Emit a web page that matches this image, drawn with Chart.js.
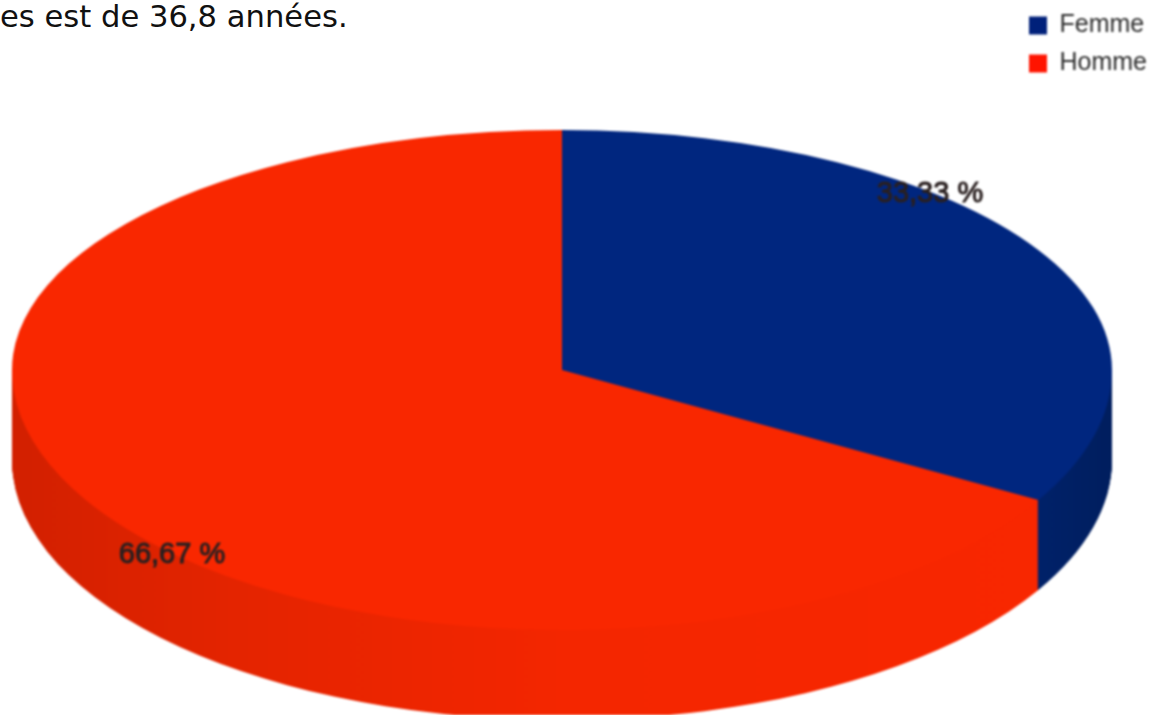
<!DOCTYPE html>
<html lang="fr">
<head>
<meta charset="utf-8">
<title>Répartition par sexe</title>
<script src="https://cdn.jsdelivr.net/npm/chart.js@4/dist/chart.umd.min.js"></script>
<style>
  html, body { margin: 0; background: #fff; overflow: hidden; }
  #wrap { position: relative; width: 1157px; height: 715px; }
  #chart { filter: blur(0.8px); }
  #line { position: absolute; left: 0; top: -1px; font: 30.6px "DejaVu Sans", sans-serif; color: #111; white-space: nowrap; }
</style>
</head>
<body>
<div id="wrap">
  <div id="line">es est de 36,8 années.</div>
  <canvas id="chart" width="1157" height="715"></canvas>
</div>
<script>
const categories = ['Femme', 'Homme'];
const values = [33.33, 66.67];
const sliceColors = ['#00267F', '#F92700'];
const legendColors = ['#00207A', '#FF1400'];

// fake 3D: the library's arcs are flattened, the front half a bit more open
const disc = { cx: 562, cy: 370, rx: 550, ryBack: 240, ryFront: 260, depth: 90 };
const labelCenters = [[930, 194], [172, 555]];

function sideFill(ctx, index, R) {
  const g = ctx.createLinearGradient(-R, 0, R, 0);
  if (index === 0) {
    g.addColorStop(0, '#002575');
    g.addColorStop(0.86, '#002575');
    g.addColorStop(1, '#001E5E');
  } else {
    g.addColorStop(0, '#D22000');
    g.addColorStop(0.2, '#E42400');
    g.addColorStop(0.5, '#F42600');
    g.addColorStop(1, '#F92700');
  }
  return g;
}

const pie3d = {
  id: 'pie3d',
  beforeDatasetsDraw(chart) {
    const ctx = chart.ctx;
    const arcs = chart.getDatasetMeta(0).data;
    const R = arcs[0].outerRadius;
    const sx = disc.rx / R;

    function place(ry, dy) {
      ctx.translate(disc.cx, disc.cy + dy);
      ctx.scale(sx, ry / R);
    }

    // side wall, front half only, back slice first
    arcs.forEach((arc, i) => {
      ctx.save();
      ctx.beginPath();
      ctx.rect(0, disc.cy, chart.width, chart.height);
      ctx.clip();
      for (let dy = disc.depth; dy >= 1; dy--) {
        ctx.save();
        place(disc.ryFront, dy);
        ctx.fillStyle = sideFill(ctx, i, R);
        ctx.beginPath();
        ctx.moveTo(0, 0);
        ctx.arc(0, 0, R, arc.startAngle, arc.endAngle);
        ctx.closePath();
        ctx.fill();
        ctx.restore();
      }
      ctx.restore();
    });

    // top face, drawn by the arc elements themselves
    [[disc.ryBack, 0, disc.cy], [disc.ryFront, disc.cy, chart.height]].forEach(([ry, y0, y1]) => {
      ctx.save();
      ctx.beginPath();
      ctx.rect(0, y0, chart.width, y1 - y0);
      ctx.clip();
      place(ry, 0);
      ctx.translate(-arcs[0].x, -arcs[0].y);
      arcs.forEach(arc => arc.draw(ctx));
      ctx.restore();
    });
    return false;
  },
  afterDraw(chart) {
    const ctx = chart.ctx;
    ctx.save();
    ctx.font = '29px "Liberation Sans", Arial, sans-serif';
    ctx.fillStyle = '#2A2020';
    ctx.strokeStyle = '#2A2020';
    ctx.lineWidth = 1;
    ctx.textAlign = 'center';
    ctx.textBaseline = 'middle';
    values.forEach((v, i) => {
      const txt = v.toFixed(2).replace('.', ',') + ' %';
      ctx.fillText(txt, labelCenters[i][0], labelCenters[i][1]);
      ctx.strokeText(txt, labelCenters[i][0], labelCenters[i][1]);
    });
    ctx.restore();
  }
};

new Chart(document.getElementById('chart'), {
  type: 'pie',
  data: {
    labels: categories,
    datasets: [{
      data: values,
      backgroundColor: sliceColors,
      borderWidth: 0,
      clip: false
    }]
  },
  options: {
    responsive: false,
    animation: false,
    plugins: {
      tooltip: { enabled: false },
      legend: {
        position: 'right',
        align: 'start',
        labels: {
          boxWidth: 18,
          boxHeight: 18,
          padding: 13,
          color: '#2C2C2C',
          font: { family: '"Liberation Sans", Arial, sans-serif', size: 25 },
          generateLabels(chart) {
            return Chart.controllers.pie.overrides.plugins.legend.labels.generateLabels(chart).map((item, i) => {
              item.fillStyle = legendColors[i];
              return item;
            });
          }
        }
      }
    }
  },
  plugins: [pie3d]
});
</script>
</body>
</html>
